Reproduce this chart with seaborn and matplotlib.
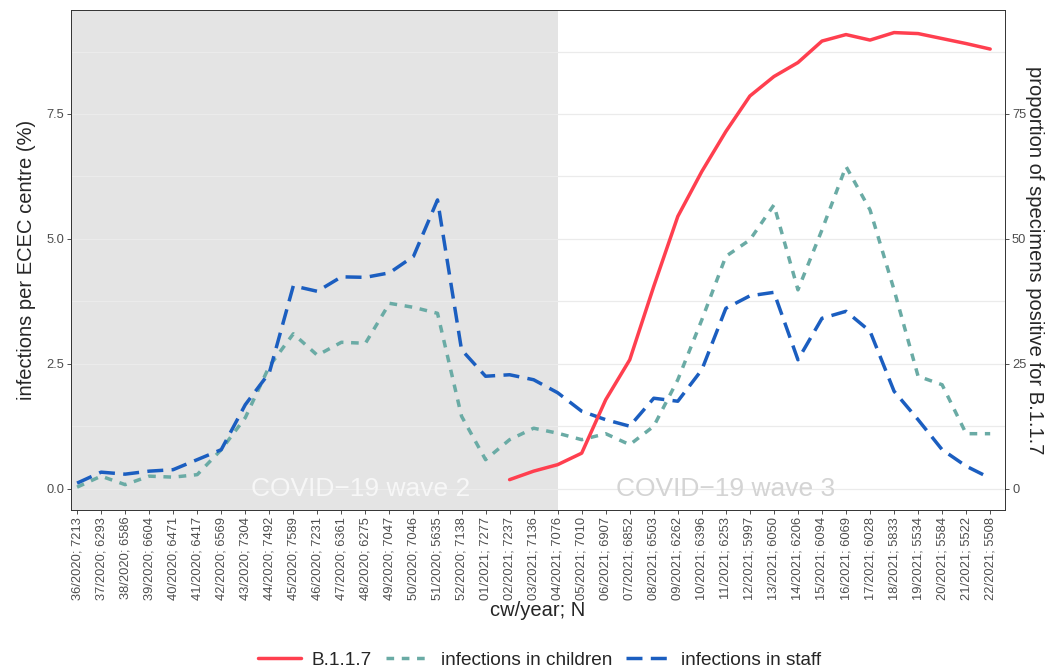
import numpy as np
import pandas as pd
import matplotlib
matplotlib.use("Agg")
import matplotlib.pyplot as plt
import seaborn as sns
from matplotlib.lines import Line2D
from matplotlib.patches import Rectangle

weeks = ["36/2020", "37/2020", "38/2020", "39/2020", "40/2020", "41/2020", "42/2020",
         "43/2020", "44/2020", "45/2020", "46/2020", "47/2020", "48/2020", "49/2020",
         "50/2020", "51/2020", "52/2020", "01/2021", "02/2021", "03/2021", "04/2021",
         "05/2021", "06/2021", "07/2021", "08/2021", "09/2021", "10/2021", "11/2021",
         "12/2021", "13/2021", "14/2021", "15/2021", "16/2021", "17/2021", "18/2021",
         "19/2021", "20/2021", "21/2021", "22/2021"]
n_centres = [7213, 6293, 6586, 6604, 6471, 6417, 6569, 7304, 7492, 7589, 7231, 6361,
             6275, 7047, 7046, 5635, 7138, 7277, 7237, 7136, 7076, 7010, 6907, 6852,
             6503, 6262, 6396, 6253, 5997, 6050, 6206, 6094, 6069, 6028, 5833, 5534,
             5584, 5522, 5508]

# infections per ECEC centre (%)
staff = [0.11, 0.33, 0.29, 0.35, 0.38, 0.58, 0.78, 1.68, 2.32, 4.06, 3.95, 4.24,
         4.23, 4.32, 4.65, 5.78, 2.78, 2.25, 2.28, 2.18, 1.92, 1.55, 1.38, 1.25,
         1.81, 1.75, 2.38, 3.61, 3.86, 3.93, 2.58, 3.41, 3.55, 3.15, 1.95, 1.38,
         0.78, 0.45, 0.21]
children = [0.03, 0.25, 0.08, 0.25, 0.23, 0.28, 0.78, 1.42, 2.45, 3.10, 2.67, 2.93,
            2.91, 3.71, 3.63, 3.51, 1.45, 0.58, 0.98, 1.21, 1.11, 0.98, 1.10, 0.88,
            1.25, 2.18, 3.38, 4.65, 4.98, 5.68, 3.98, 5.18, 6.45, 5.58, 3.98, 2.25,
            2.08, 1.10, 1.10]
# proportion of specimens positive for B.1.1.7 (%)
b117 = [np.nan] * 18 + [1.8, 3.5, 4.8, 7.1, 17.8, 25.8, 40.5, 54.5, 63.5, 71.5,
                        78.6, 82.5, 85.3, 89.6, 90.9, 89.8, 91.3, 91.1, 90.1, 89.1, 88.0]

labels = [f"{w}; {n}" for w, n in zip(weeks, n_centres)]
df = pd.DataFrame({"x": range(len(weeks)), "staff": staff, "children": children, "b117": b117})

c_red = "#FF3F4F"
c_teal = "#6AABA5"
c_blue = "#1B5EC0"

sns.set_theme(style="white")
plt.rcParams["font.family"] = ["Liberation Sans", "DejaVu Sans"]

fig = plt.figure(figsize=(10.45, 6.7), dpi=100)
ax = fig.add_axes([0.068, 0.239, 0.8938, 0.7463])
ax2 = ax.twinx()

ax.set_xlim(-0.25, 38.62)
ax.set_ylim(-0.425, 9.585)
ax2.set_ylim(-4.25, 95.85)

# wave 2 shading
ax.add_patch(Rectangle((-1, -1), 21, 12, color="#E4E4E4", zorder=0.2, lw=0))
for yv in np.arange(0, 10, 1.25):
    ax.axhline(yv, color="#EBEBEB", lw=0.9, zorder=0.5)

ax.text(11.8, 0.0, "COVID\u221219 wave 2", color="#F7F7F7", fontsize=19,
        ha="center", va="center", zorder=1)
ax.text(27.0, 0.0, "COVID\u221219 wave 3", color="#D4D4D4", fontsize=19,
        ha="center", va="center", zorder=1)

sns.lineplot(data=df, x="x", y="children", ax=ax, color=c_teal, lw=2.5, zorder=3)
ax.lines[-1].set_linestyle((0, (2.2, 2.2)))
sns.lineplot(data=df, x="x", y="staff", ax=ax, color=c_blue, lw=2.5, zorder=4)
ax.lines[-1].set_linestyle((0, (4.6, 2.4)))
sns.lineplot(data=df.dropna(), x="x", y="b117", ax=ax2, color=c_red, lw=2.5, zorder=5)

ax.set_xticks(range(len(labels)))
ax.set_xticklabels(labels, rotation=90, fontsize=9.3, color="#4D4D4D")
ax.set_yticks([0, 2.5, 5.0, 7.5])
ax.set_yticklabels(["0.0", "2.5", "5.0", "7.5"], fontsize=9.3, color="#4D4D4D")
ax2.set_yticks([0, 25, 50, 75])
ax2.set_yticklabels(["0", "25", "50", "75"], fontsize=9.3, color="#4D4D4D")
ax.set_xlabel("cw/year; N", fontsize=14.5, labelpad=1)
ax.set_ylabel("infections per ECEC centre (%)", fontsize=14.5, labelpad=7)
ax2.set_ylabel("proportion of specimens positive for B.1.1.7", fontsize=14.5,
               rotation=-90, ha="center", va="center")
ax2.yaxis.set_label_coords(1.031, 0.5)

for a in (ax, ax2):
    a.tick_params(axis="both", length=3, width=0.6, color="#333333", pad=2)
    for s in a.spines.values():
        s.set_color("#333333")
        s.set_linewidth(0.6)
ax.tick_params(axis="x", bottom=True)
ax.tick_params(axis="y", left=True)
ax2.tick_params(axis="y", right=True)
ax2.grid(False)
ax.grid(False)

handles = [Line2D([], [], color=c_red, lw=2.5),
           Line2D([], [], color=c_teal, lw=2.5, linestyle=(0, (2.2, 2.2))),
           Line2D([], [], color=c_blue, lw=2.5, linestyle=(0, (4.6, 2.4)))]
fig.legend(handles, ["B.1.1.7", "infections in children", "infections in staff"],
           loc="center", bbox_to_anchor=(0.516, 0.015), ncol=3, frameon=False,
           fontsize=13.7, handlelength=2.3, columnspacing=0.75, handletextpad=0.55)

fig.savefig("out.png", dpi=100)
